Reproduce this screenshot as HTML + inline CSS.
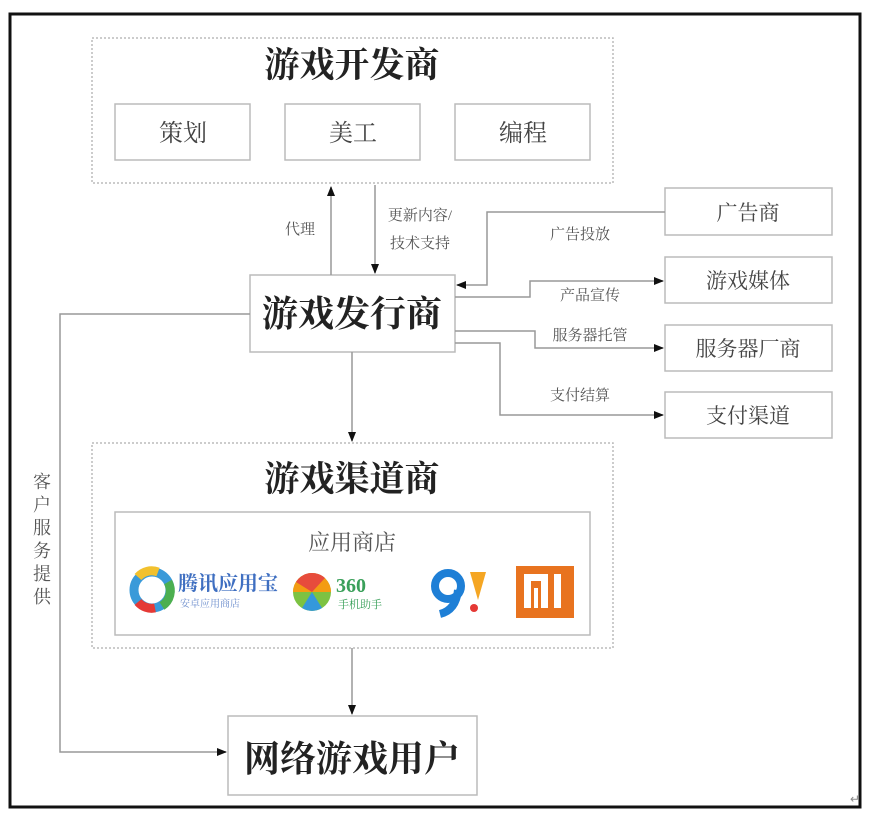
<!DOCTYPE html>
<html><head><meta charset="utf-8"><style>
html,body{margin:0;padding:0;background:#fff;width:870px;height:817px;overflow:hidden}
svg text{font-family:"Liberation Serif","Noto Serif CJK SC","Noto Sans CJK SC",serif}
</style></head><body>
<svg width="870" height="817" viewBox="0 0 870 817" xmlns="http://www.w3.org/2000/svg">
<defs><marker id="a" markerWidth="10" markerHeight="10" refX="9" refY="5" orient="auto" markerUnits="userSpaceOnUse"><path d="M0,1 L10,5 L0,9 z" fill="#111"/></marker></defs>
<rect x="10" y="14" width="850" height="793" fill="#fff" stroke="#111" stroke-width="3"/>
<g fill="none" stroke="#bbb" stroke-width="1.5">
<rect x="92" y="38" width="521" height="145" stroke-dasharray="2,2"/>
<rect x="92" y="443" width="521" height="205" stroke-dasharray="2,2"/>
<rect x="115" y="104" width="135" height="56"/>
<rect x="285" y="104" width="135" height="56"/>
<rect x="455" y="104" width="135" height="56"/>
<rect x="250" y="275" width="205" height="77"/>
<rect x="665" y="188" width="167" height="47"/>
<rect x="665" y="257" width="167" height="46"/>
<rect x="665" y="325" width="167" height="46"/>
<rect x="665" y="392" width="167" height="46"/>
<rect x="115" y="512" width="475" height="123"/>
<rect x="228" y="716" width="249" height="79"/>
</g>
<g fill="none" stroke="#999" stroke-width="1.5">
<line x1="331" y1="275" x2="331" y2="187" marker-end="url(#a)"/>
<line x1="375" y1="185" x2="375" y2="273" marker-end="url(#a)"/>
<polyline points="665,212 487,212 487,285 457,285" marker-end="url(#a)"/>
<polyline points="455,297 530,297 530,281 663,281" marker-end="url(#a)"/>
<polyline points="455,331 535,331 535,348 663,348" marker-end="url(#a)"/>
<polyline points="455,343 500,343 500,415 663,415" marker-end="url(#a)"/>
<line x1="352" y1="352" x2="352" y2="441" marker-end="url(#a)"/>
<line x1="352" y1="648" x2="352" y2="714" marker-end="url(#a)"/>
<polyline points="250,314 60,314 60,752 226,752" marker-end="url(#a)"/>
</g>
<g text-anchor="middle" fill="#222">
<text x="352" y="77" font-size="35" font-weight="bold">游戏开发商</text>
<text x="183" y="141" font-size="24" fill="#444">策划</text>
<text x="353" y="141" font-size="24" fill="#444">美工</text>
<text x="523" y="141" font-size="24" fill="#444">编程</text>
<text x="352" y="326" font-size="36" font-weight="bold">游戏发行商</text>
<text x="352" y="491" font-size="35" font-weight="bold">游戏渠道商</text>
<text x="352" y="771" font-size="36" font-weight="bold">网络游戏用户</text>
<text x="352" y="550" font-size="22" fill="#555">应用商店</text>
<text x="748" y="220" font-size="21" fill="#444">广告商</text>
<text x="748" y="288" font-size="21" fill="#444">游戏媒体</text>
<text x="748" y="356" font-size="21" fill="#444">服务器厂商</text>
<text x="748" y="423" font-size="21" fill="#444">支付渠道</text>
<g font-size="15" fill="#555">
<text x="300" y="234">代理</text>
<text x="420" y="220">更新内容/</text>
<text x="420" y="248">技术支持</text>
<text x="580" y="239">广告投放</text>
<text x="590" y="300">产品宣传</text>
<text x="590" y="340">服务器托管</text>
<text x="580" y="400">支付结算</text>
</g>
<g font-size="18" fill="#555">
<text x="42" y="488">客</text><text x="42" y="511">户</text><text x="42" y="534">服</text><text x="42" y="557">务</text><text x="42" y="580">提</text><text x="42" y="603">供</text>
</g>
</g>
<g>
<circle cx="152" cy="590" r="18" fill="none" stroke="#3a9ad9" stroke-width="9"/>
<path d="M138,577 A18,18 0 0 1 158,572" stroke="#f2c12e" stroke-width="9" fill="none"/>
<path d="M168,582 A18,18 0 0 1 162,606" stroke="#4caf50" stroke-width="9" fill="none"/>
<path d="M155,608 A18,18 0 0 1 138,602" stroke="#e53935" stroke-width="9" fill="none"/>
<text x="178" y="590" font-size="20" font-weight="bold" fill="#3f6fc1" font-family="Liberation Sans,'Noto Sans CJK SC',sans-serif">腾讯应用宝</text>
<text x="180" y="607" font-size="10" fill="#6a8ccc" font-family="Liberation Sans,'Noto Sans CJK SC',sans-serif">安卓应用商店</text>
<circle cx="312" cy="592" r="19" fill="#7cc242"/>
<path d="M293,592 A19,19 0 0 1 331,592 z" fill="#f39c12"/>
<path d="M296,582 A19,19 0 0 1 325,578 L312,592 z" fill="#e74c3c"/>
<path d="M312,592 L322,608 A19,19 0 0 1 302,608 z" fill="#3498db"/>
<text x="336" y="592" font-size="20" font-weight="bold" fill="#3aa05a" font-family="Liberation Sans,sans-serif">360</text>
<text x="338" y="608" font-size="11" fill="#3aa05a" font-family="Liberation Sans,'Noto Sans CJK SC',sans-serif">手机助手</text>
<circle cx="448" cy="586" r="13" fill="none" stroke="#1e7fd6" stroke-width="8"/>
<path d="M458,590 Q456,610 440,614" stroke="#1e7fd6" stroke-width="8" fill="none"/>
<path d="M470,572 L486,572 L478,600 z" fill="#f5a623"/>
<circle cx="474" cy="608" r="4" fill="#e53935"/>
<rect x="516" y="566" width="58" height="52" fill="#e8731f"/>
<path d="M524,574 h24 v34 h-7 v-27 h-10 v27 h-7 z M534,588 h4 v20 h-4z M554,574 h7 v34 h-7z" fill="#fff"/>
</g>
<text x="850" y="803" font-size="12" fill="#888">↵</text>
</svg>
</body></html>
